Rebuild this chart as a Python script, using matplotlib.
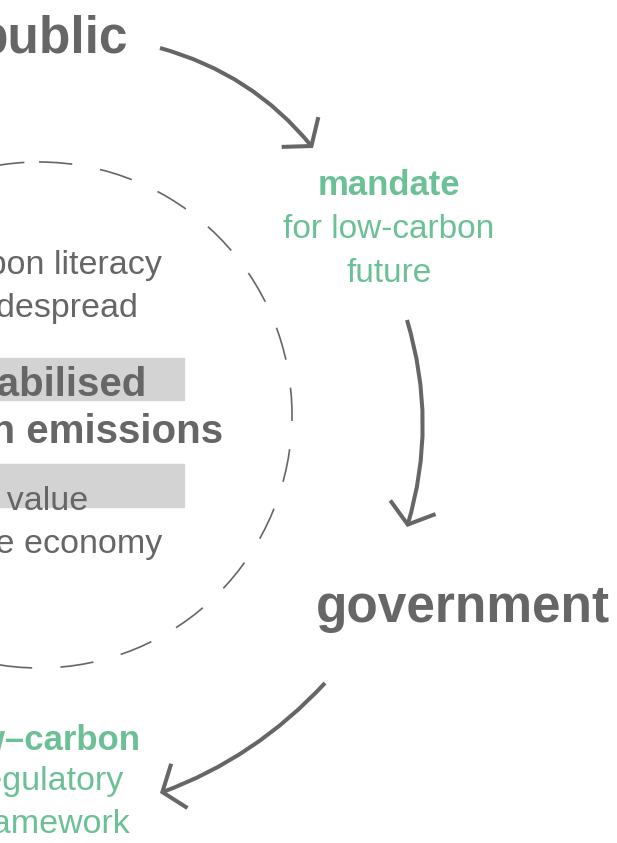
import matplotlib.pyplot as plt
from matplotlib.patches import Circle, Rectangle, FancyArrowPatch

plt.rcParams['font.family'] = ['Liberation Sans', 'DejaVu Sans']

GREY = '#666666'
GREEN = '#6cc096'
BOX = '#d3d3d3'

# labels of the cycle (cropped on the left in the original)
actor_labels = ['public', 'government']
mandate_lines = ['mandate', 'for low-carbon', 'future']
framework_lines = ['low–carbon', 'regulatory', 'framework']
centre_lines = ['public carbon literacy', 'widespread', 'stabilised',
                'carbon emissions', 'low-carbon value', 'in the economy']
centre_bold = [False, False, True, True, False, False]

fig = plt.figure(figsize=(6.17, 8.43), dpi=100)
ax = fig.add_axes([0, 0, 1, 1])
ax.set_xlim(0, 617)
ax.set_ylim(843, 0)
ax.axis('off')

# dashed circle in the middle
ax.add_patch(Circle((39, 415), 253, fill=False, ec=GREY, lw=1.2,
                    linestyle=(0, (20, 17))))

# grey highlight boxes behind the centre text
ax.add_patch(Rectangle((-5, 358), 189, 42, color=BOX, zorder=1))
ax.add_patch(Rectangle((-5, 464), 189, 43, color=BOX, zorder=1))

# centre text, right aligned at the visible ends
right_ends = [162, 138, 147, 223, 88, 162]
baselines = [274, 317, 396, 443, 510, 553]
for txt, bold, xr, yb in zip(centre_lines, centre_bold, right_ends, baselines):
    ax.text(xr, yb, txt, ha='right', va='baseline', color=GREY,
            fontsize=29 if bold else 24.5,
            fontweight='bold' if bold else 'normal', zorder=3)

# actors
ax.text(128, 53, actor_labels[0], ha='right', va='baseline', color=GREY,
        fontsize=37, fontweight='bold')
ax.text(463, 622, actor_labels[1], ha='center', va='baseline', color=GREY,
        fontsize=37, fontweight='bold')

# mandate label
for i, (txt, yb) in enumerate(zip(mandate_lines, [195, 238, 282])):
    ax.text(389, yb, txt, ha='center', va='baseline', color=GREEN,
            fontsize=25 if i == 0 else 24,
            fontweight='bold' if i == 0 else 'normal')

# framework label
for i, (txt, xr, yb) in enumerate(zip(framework_lines, [141, 124, 130],
                                       [750, 790, 833])):
    ax.text(xr, yb, txt, ha='right', va='baseline', color=GREEN,
            fontsize=25 if i == 0 else 24.5,
            fontweight='bold' if i == 0 else 'normal')

# arrows of the cycle
style = '->,head_length=1.3,head_width=1.7'
arrows = [((160, 48), (313, 148), -0.16),
          ((407, 320), (407, 527), -0.15),
          ((325, 683), (160, 793), -0.12)]
for a, b, rad in arrows:
    ax.add_patch(FancyArrowPatch(a, b, arrowstyle=style, mutation_scale=10,
                                 connectionstyle=f'arc3,rad={rad}',
                                 color=GREY, lw=2.9, shrinkA=0, shrinkB=0,
                                 joinstyle='miter', capstyle='butt'))

fig.savefig('out.png', dpi=100)
